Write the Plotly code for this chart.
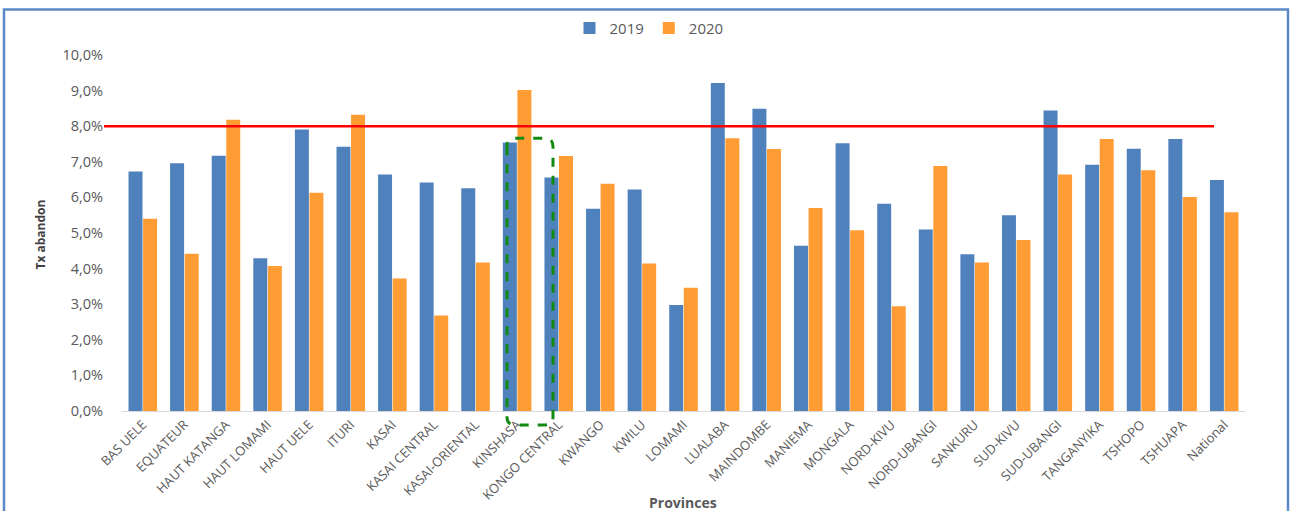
import plotly.graph_objects as go

# Taux d'abandon par province, 2019 vs 2020 (en %)
provinces = [
    "BAS UELE", "EQUATEUR", "HAUT KATANGA", "HAUT LOMAMI", "HAUT UELE", "ITURI",
    "KASAI", "KASAI CENTRAL", "KASAI-ORIENTAL", "KINSHASA", "KONGO CENTRAL",
    "KWANGO", "KWILU", "LOMAMI", "LUALABA", "MAINDOMBE", "MANIEMA", "MONGALA",
    "NORD-KIVU", "NORD-UBANGI", "SANKURU", "SUD-KIVU", "SUD-UBANGI",
    "TANGANYIKA", "TSHOPO", "TSHUAPA", "National",
]
taux_2019 = [6.73, 6.96, 7.17, 4.29, 7.91, 7.42, 6.64, 6.42, 6.26, 7.54, 6.56,
             5.68, 6.22, 2.98, 9.21, 8.49, 4.64, 7.52, 5.82, 5.10, 4.40, 5.50,
             8.44, 6.92, 7.37, 7.64, 6.49]
taux_2020 = [5.40, 4.42, 8.18, 4.07, 6.13, 8.32, 3.72, 2.68, 4.17, 9.02, 7.16,
             6.38, 4.14, 3.46, 7.66, 7.36, 5.70, 5.08, 2.94, 6.88, 4.17, 4.80,
             6.64, 7.64, 6.76, 6.01, 5.58]
y_ticks = [0, 1, 2, 3, 4, 5, 6, 7, 8, 9, 10]
y_tick_labels = ["0,0%", "1,0%", "2,0%", "3,0%", "4,0%", "5,0%", "6,0%",
                 "7,0%", "8,0%", "9,0%", "10,0%"]
seuil = 8.0

W, H = 1290, 511
L, R, T, B = 122, 45, 52, 100
pw, ph = W - L - R, H - T - B


def px(x):
    return (x - L) / pw


def py(y):
    return (H - B - y) / ph


grey = "#595959"
font_family = "Open Sans, DejaVu Sans, sans-serif"

fig = go.Figure()
fig.add_trace(go.Bar(name="2019", x=provinces, y=taux_2019,
                     marker=dict(color="#4f81bd", line=dict(width=0))))
fig.add_trace(go.Bar(name="2020", x=provinces, y=taux_2020,
                     marker=dict(color="#ff9c34", line=dict(width=0))))

shapes = [
    # cadre du graphique
    dict(type="rect", xref="paper", yref="paper",
         x0=px(4), x1=px(1288), y0=py(520), y1=py(6),
         line=dict(color="#5b88c8", width=2.5), layer="above"),
    # seuil à 8 %
    dict(type="line", xref="paper", yref="y",
         x0=px(104), x1=px(1214), y0=seuil, y1=seuil,
         line=dict(color="#ff0000", width=2.5), layer="above"),
]

# encadré pointillé arrondi autour de KINSHASA / KONGO CENTRAL
x0, x1, y0, y1, r = 507, 553, 136, 425, 8
path = (f"M {px(x0)},{py(y0 + r)} "
        f"L {px(x0)},{py(y1 - r)} Q {px(x0)},{py(y1)} {px(x0 + r)},{py(y1)} "
        f"L {px(x1 - r)},{py(y1)} Q {px(x1)},{py(y1)} {px(x1)},{py(y1 - r)} "
        f"L {px(x1)},{py(y0 + r)} Q {px(x1)},{py(y0)} {px(x1 - r)},{py(y0)} "
        f"L {px(x0 + r)},{py(y0)} Q {px(x0)},{py(y0)} {px(x0)},{py(y0 + r)} Z")
shapes.append(dict(type="path", xref="paper", yref="paper", path=path,
                   line=dict(color="#128a12", width=3, dash="dash"),
                   layer="above"))

annotations = [
    dict(text="Tx abandon", xref="paper", yref="paper", x=px(40), y=py(233),
         textangle=-90, showarrow=False, xanchor="center", yanchor="middle",
         font=dict(size=12, color="#404040", family=font_family, weight="bold")),
    dict(text="Provinces", xref="paper", yref="paper", x=px(683), y=py(503),
         showarrow=False, xanchor="center", yanchor="middle",
         font=dict(size=14, color=grey, family=font_family, weight="bold")),
]

fig.update_layout(
    width=W, height=H,
    margin=dict(l=L, r=R, t=T, b=B),
    paper_bgcolor="white", plot_bgcolor="white",
    barmode="group", bargap=0.3, bargroupgap=0.04,
    font=dict(family=font_family, color=grey),
    legend=dict(orientation="h", x=px(649), y=py(25), xanchor="center",
                yanchor="middle", font=dict(size=15, color=grey),
                itemwidth=30, traceorder="normal"),
    shapes=shapes,
    annotations=annotations,
    xaxis=dict(tickangle=-45, tickfont=dict(size=13, color=grey),
               showline=True, linecolor="#d9d9d9", linewidth=1,
               ticks="", showgrid=False, automargin=False),
    yaxis=dict(range=[0, 10], tickvals=y_ticks, ticktext=y_tick_labels,
               tickfont=dict(size=14.5, color=grey), showgrid=False,
               zeroline=False, showline=False, ticks="",
               ticklabelstandoff=18, automargin=False),
)

fig.write_html("out.html")
